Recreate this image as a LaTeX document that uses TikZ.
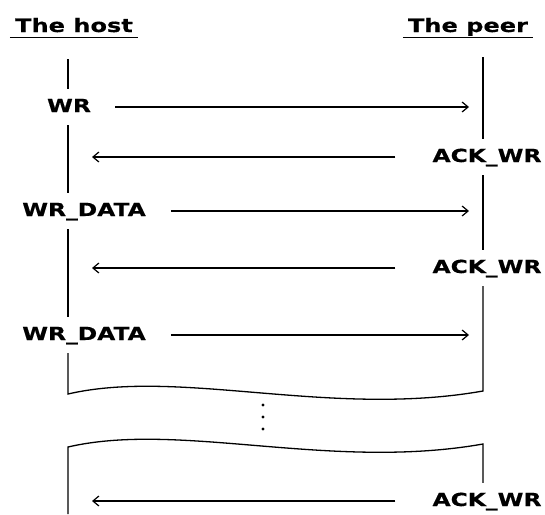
\documentclass[tikz,border=0pt]{standalone}
\usepackage{fontspec}
\newfontfamily\lblfont[FakeStretch=1.3,FakeBold=0.5]{DejaVu Sans}
\usetikzlibrary{arrows.meta}
\tikzset{
  lifeline/.style={line width=1.3pt},
  msg/.style={line width=1.2pt, -{Straight Barb[length=6pt,width=10pt,line width=1.2pt]}},
  msglabel/.style={font=\lblfont\bfseries\fontsize{18pt}{20pt}\selectfont, text height=12pt, text depth=2pt, inner xsep=0pt, inner ysep=11pt},
  titlebox/.style={font=\lblfont\bfseries\fontsize{18.5pt}{20pt}\selectfont, text height=14pt, text depth=0pt, inner xsep=5pt, inner ysep=5pt},
  dotmark/.style={fill=black}
}

\begin{document}
\begin{tikzpicture}[x=1pt,y=-1pt]
  \useasboundingbox (0,0) rectangle (545,514);

  \coordinate (h0) at (68,59);
  \coordinate (p0) at (483,57);
  \coordinate (rt) at (469,0);
  \coordinate (lt) at (92,0);
  \coordinate (w1l) at (68,394);
  \coordinate (w1r) at (483,391);
  \coordinate (w2l) at (68,447);
  \coordinate (w2r) at (483,444);
  \coordinate (hend) at (68,514);

  \node[titlebox] (host) at (74,25) {The host};
  \node[titlebox] (peer) at (468,25) {The peer};
  \draw[line width=1.3pt] (host.south west) -- (host.south east);
  \draw[line width=1.3pt] (peer.south west) -- (peer.south east);

  \node[msglabel] (wr) at (69,107) {WR};
  \node[msglabel] (ack1) at (487,157) {ACK\_WR};
  \node[msglabel] (wrd1) at (84,211) {WR\_DATA};
  \node[msglabel] (ack2) at (487,268) {ACK\_WR};
  \node[msglabel] (wrd2) at (84,335) {WR\_DATA};
  \node[msglabel] (ack3) at (487,501) {ACK\_WR};

  \draw[lifeline] (h0) -- (wr.north -| h0);
  \draw[lifeline] (wr.south -| h0) -- (wrd1.north -| h0);
  \draw[lifeline] (wrd1.south -| h0) -- (wrd2.north -| h0);
  \draw[lifeline] (p0) -- (ack1.north -| p0);
  \draw[lifeline] (ack1.south -| p0) -- (ack2.north -| p0);
  \draw[lifeline] (wrd2.south -| h0) -- (w1l)
    .. controls (180,368) and (330,418) .. (w1r) -- (ack2.south -| p0);
  \draw[lifeline] (hend) -- (w2l)
    .. controls (180,421) and (330,471) .. (w2r) -- (ack3.north -| p0);

  \draw[msg] ([xshift=24pt]wr.east) -- (wr.east -| rt);
  \draw[msg] ([xshift=-37pt]ack1.west) -- (ack1.west -| lt);
  \draw[msg] ([xshift=25pt]wrd1.east) -- (wrd1.east -| rt);
  \draw[msg] ([xshift=-37pt]ack2.west) -- (ack2.west -| lt);
  \draw[msg] ([xshift=25pt]wrd2.east) -- (wrd2.east -| rt);
  \draw[msg] ([xshift=-37pt]ack3.west) -- (ack3.west -| lt);

  \foreach \y in {405,417,429}
    \fill[dotmark] (263,\y) circle (1.6pt);
\end{tikzpicture}
\end{document}
